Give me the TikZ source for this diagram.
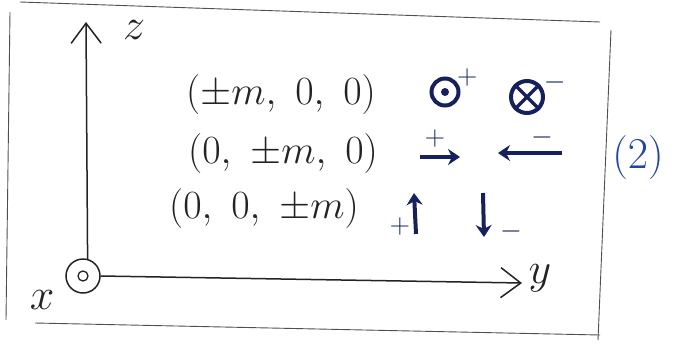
\RequirePackage{fix-cm}
\documentclass[tikz,border=0pt]{standalone}
\usepackage{amsmath,amssymb}
\usetikzlibrary{arrows.meta,positioning}
\definecolor{penInk}{RGB}{35,35,35}
\definecolor{blueInk}{RGB}{22,32,92}
\definecolor{labelInk}{RGB}{35,70,165}

\begin{document}
\begin{tikzpicture}[x=1pt,y=-1pt,
    axis/.style={penInk, line width=1.5pt, -{Straight Barb[length=20pt,width=30pt]}},
    spin/.style={blueInk, line width=4pt, -{Stealth[length=12pt,width=16pt]}},
    rowtext/.style={penInk, font=\fontsize{40}{44}\selectfont},
    axlabel/.style={penInk, font=\fontsize{44}{48}\selectfont},
    sgn/.style={blueInk, font=\fontsize{28}{30}\selectfont, inner sep=0pt}]
    \useasboundingbox (0,0) rectangle (676,343);
    % Sketched frame
    \draw[penInk!80, line width=0.9pt] (10,12) -- (6,320);
    \draw[penInk!80, line width=0.9pt] (20,2) -- (600,22);
    \draw[penInk!80, line width=0.9pt] (611,30) -- (598,340);
    \draw[penInk!80, line width=0.9pt] (35,323) -- (600,335);
    % Axes: x out of the page
    \node[circle, draw=penInk, line width=1.5pt, minimum size=34pt, inner sep=0pt] (orig) at (83,276) {};
    \draw[penInk, line width=1.3pt] (orig.center) circle (5);
    \coordinate (ztip) at (86,22);
    \coordinate (ytip) at (522,283);
    \draw[axis] (orig.75) -- (ztip);
    \draw[axis] (orig.east) -- (ytip);
    \node[axlabel] (zlab) at (134,30) {$z$};
    \node[axlabel] (ylab) at (540,278) {$y$};
    \node[axlabel] (xlab) at (42,300) {$x$};
    % Directions
    \node[rowtext] (rowx) at (281,94) {$(\pm m,\ 0,\ 0)$};
    \node[rowtext] (rowy) at (283,153) {$(0,\ \pm m,\ 0)$};
    \node[rowtext] (rowz) at (264,208) {$(0,\ 0,\ \pm m)$};
    % x: out of / into the page
    \node[circle, draw=blueInk, line width=4pt, minimum width=27pt, inner sep=0pt] (xplus) at (445,92) {};
    \fill[blueInk] (xplus.center) circle (4);
    \node[sgn, above right=-5pt and 1pt of xplus] (xplusSgn) {$+$};
    \node[circle, draw=blueInk, line width=4pt, minimum width=32pt, inner sep=0pt] (xminus) at (527,97) {};
    \draw[blueInk, line width=3.4pt] (xminus.45) -- (xminus.225) (xminus.135) -- (xminus.315);
    \node[sgn, above right=-8pt and 4pt of xminus] (xminusSgn) {$-$};
    % y: along the axis
    \coordinate (ypTail) at (420,157);
    \coordinate (ypHead) at (460,157);
    \draw[spin] (ypTail) -- (ypHead);
    \node[sgn] (ypSgn) at (435,138) {$+$};
    \coordinate (ymTail) at (562,153);
    \coordinate (ymHead) at (498,153);
    \draw[spin] (ymTail) -- (ymHead);
    \node[sgn] (ymSgn) at (542,137) {$-$};
    % z: up / down
    \coordinate (zpTail) at (416,234);
    \coordinate (zpHead) at (414,193);
    \draw[spin] (zpTail) -- (zpHead);
    \node[sgn] (zpSgn) at (400,226) {$+$};
    \coordinate (zmTail) at (483,193);
    \coordinate (zmHead) at (484,237);
    \draw[spin] (zmTail) -- (zmHead);
    \node[sgn] (zmSgn) at (511,231) {$-$};
    % Equation number
    \node[labelInk, font=\fontsize{44}{48}\selectfont] (eqno) at (638,157) {$(2)$};
\end{tikzpicture}
\end{document}
